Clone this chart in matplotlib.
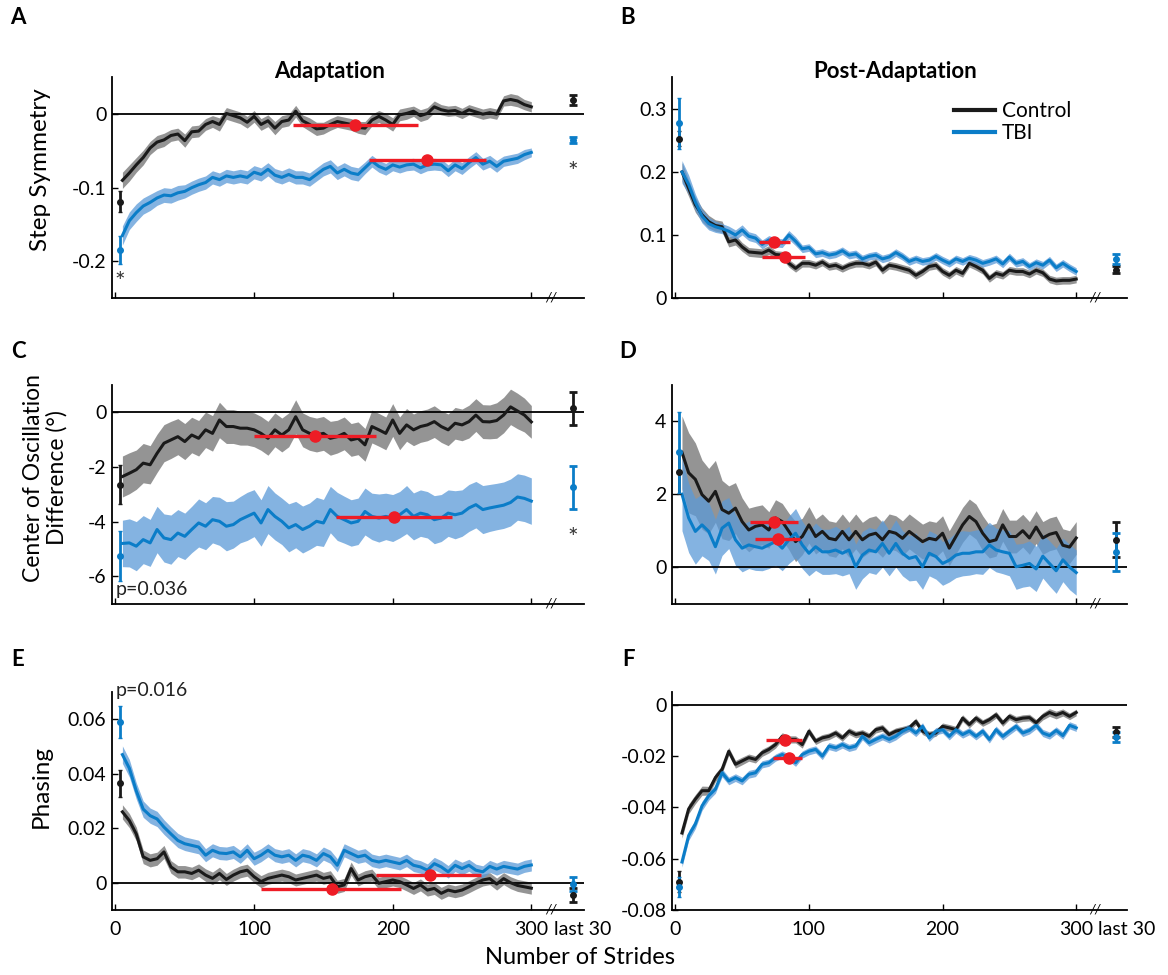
import numpy as np
import matplotlib.pyplot as plt
from matplotlib.transforms import ScaledTranslation

plt.rcParams['font.family'] = ['Lato', 'DejaVu Sans']

# stride bins (every 5 strides) used for all the curves
strides = np.arange(5, 301, 5)

# A: step symmetry, adaptation
a_ctrl = [-0.090, -0.080, -0.069, -0.059, -0.046, -0.038, -0.035, -0.029, -0.027, -0.036,
          -0.024, -0.023, -0.014, -0.010, -0.014, 0.001, -0.002, -0.005, -0.011, -0.003,
          -0.014, -0.009, -0.019, -0.010, -0.008, 0.004, -0.009, -0.014, -0.020, -0.019,
          -0.014, -0.010, -0.012, -0.014, -0.018, -0.019, -0.008, -0.003, -0.008, -0.014,
          -0.001, 0.001, 0.004, -0.002, 0.001, 0.010, 0.006, 0.004, 0.005, 0.001,
          0.006, 0.003, 0.000, 0.002, 0.000, 0.018, 0.020, 0.018, 0.013, 0.010]
a_ctrl_se = [0.011, 0.011, 0.010, 0.010, 0.009, 0.009, 0.009, 0.008, 0.008, 0.009,
             0.008, 0.008, 0.008, 0.008, 0.009, 0.008, 0.008, 0.008, 0.008, 0.008,
             0.008, 0.008, 0.009, 0.008, 0.008, 0.008, 0.008, 0.009, 0.009, 0.008,
             0.008, 0.008, 0.008, 0.008, 0.008, 0.009, 0.008, 0.008, 0.009, 0.009,
             0.008, 0.008, 0.007, 0.008, 0.008, 0.008, 0.007, 0.007, 0.007, 0.007,
             0.007, 0.007, 0.007, 0.007, 0.007, 0.007, 0.008, 0.008, 0.007, 0.007]
a_tbi = [-0.165, -0.145, -0.134, -0.125, -0.120, -0.114, -0.110, -0.111, -0.107, -0.105,
         -0.100, -0.096, -0.093, -0.086, -0.089, -0.084, -0.086, -0.084, -0.086, -0.079,
         -0.082, -0.075, -0.083, -0.086, -0.082, -0.086, -0.086, -0.089, -0.082, -0.075,
         -0.071, -0.080, -0.075, -0.080, -0.082, -0.073, -0.064, -0.071, -0.075, -0.069,
         -0.072, -0.069, -0.068, -0.073, -0.069, -0.068, -0.069, -0.077, -0.069, -0.074,
         -0.066, -0.059, -0.068, -0.064, -0.071, -0.064, -0.062, -0.060, -0.055, -0.052]
a_tbi_se = [0.013, 0.012, 0.012, 0.011, 0.011, 0.010, 0.010, 0.010, 0.010, 0.009,
            0.009, 0.009, 0.009, 0.009, 0.009, 0.009, 0.009, 0.009, 0.009, 0.009,
            0.009, 0.009, 0.009, 0.009, 0.009, 0.009, 0.009, 0.009, 0.009, 0.009,
            0.009, 0.009, 0.009, 0.009, 0.009, 0.008, 0.008, 0.008, 0.008, 0.008,
            0.008, 0.008, 0.008, 0.008, 0.008, 0.008, 0.008, 0.008, 0.008, 0.008,
            0.008, 0.008, 0.008, 0.008, 0.008, 0.007, 0.007, 0.007, 0.007, 0.006]

# B: step symmetry, post-adaptation
b_ctrl = [0.200, 0.174, 0.148, 0.132, 0.121, 0.115, 0.113, 0.089, 0.092, 0.081,
          0.073, 0.072, 0.071, 0.076, 0.069, 0.068, 0.055, 0.047, 0.055, 0.055,
          0.052, 0.057, 0.050, 0.052, 0.047, 0.052, 0.055, 0.055, 0.052, 0.057,
          0.044, 0.052, 0.050, 0.047, 0.044, 0.036, 0.042, 0.050, 0.052, 0.042,
          0.036, 0.044, 0.039, 0.055, 0.050, 0.044, 0.031, 0.039, 0.036, 0.044,
          0.042, 0.042, 0.038, 0.044, 0.040, 0.030, 0.027, 0.028, 0.028, 0.030]
b_ctrl_se = [0.015, 0.013, 0.012, 0.011, 0.010, 0.009, 0.009, 0.008, 0.008, 0.007,
             0.007, 0.007, 0.007, 0.007, 0.006, 0.006, 0.006, 0.006, 0.006, 0.006,
             0.006, 0.006, 0.006, 0.006, 0.006, 0.006, 0.006, 0.006, 0.006, 0.006,
             0.006, 0.006, 0.006, 0.006, 0.006, 0.006, 0.006, 0.006, 0.006, 0.006,
             0.006, 0.006, 0.006, 0.006, 0.006, 0.006, 0.006, 0.006, 0.006, 0.006,
             0.006, 0.006, 0.006, 0.006, 0.006, 0.006, 0.006, 0.006, 0.006, 0.006]
b_tbi = [0.200, 0.180, 0.152, 0.130, 0.118, 0.113, 0.110, 0.106, 0.100, 0.108,
         0.098, 0.095, 0.085, 0.092, 0.088, 0.087, 0.100, 0.090, 0.078, 0.080,
         0.070, 0.072, 0.068, 0.070, 0.075, 0.068, 0.070, 0.062, 0.066, 0.068,
         0.062, 0.065, 0.072, 0.066, 0.058, 0.062, 0.058, 0.060, 0.066, 0.060,
         0.055, 0.062, 0.058, 0.063, 0.060, 0.055, 0.058, 0.062, 0.054, 0.065,
         0.055, 0.058, 0.050, 0.056, 0.052, 0.060, 0.048, 0.055, 0.048, 0.042]
b_tbi_se = [0.018, 0.015, 0.013, 0.011, 0.010, 0.009, 0.008, 0.008, 0.008, 0.008,
            0.007, 0.007, 0.007, 0.007, 0.007, 0.007, 0.007, 0.007, 0.006, 0.006,
            0.006, 0.006, 0.006, 0.006, 0.006, 0.006, 0.006, 0.006, 0.006, 0.006,
            0.006, 0.006, 0.006, 0.006, 0.006, 0.006, 0.006, 0.006, 0.006, 0.006,
            0.006, 0.006, 0.006, 0.006, 0.006, 0.006, 0.006, 0.006, 0.006, 0.006,
            0.006, 0.006, 0.006, 0.006, 0.006, 0.006, 0.006, 0.006, 0.006, 0.006]

# C: center of oscillation difference, adaptation
c_ctrl = [-2.35, -2.23, -2.10, -1.86, -1.92, -1.50, -1.13, -1.01, -0.89, -1.07,
          -0.83, -0.95, -0.64, -0.77, -0.28, -0.52, -0.52, -0.58, -0.58, -0.64,
          -0.77, -0.95, -0.64, -0.83, -0.64, -0.16, -0.64, -0.77, -0.83, -0.77,
          -0.95, -0.89, -0.77, -1.01, -0.95, -1.19, -0.52, -0.64, -0.77, -0.28,
          -0.77, -0.46, -0.64, -0.52, -0.46, -0.34, -0.52, -0.64, -0.40, -0.46,
          -0.34, -0.10, -0.34, -0.35, -0.30, -0.10, 0.20, 0.05, -0.10, -0.35]
c_ctrl_se = [0.75, 0.75, 0.72, 0.72, 0.70, 0.70, 0.68, 0.68, 0.66, 0.66,
             0.65, 0.65, 0.65, 0.65, 0.65, 0.62, 0.62, 0.62, 0.62, 0.62,
             0.62, 0.62, 0.62, 0.62, 0.62, 0.62, 0.62, 0.62, 0.62, 0.62,
             0.62, 0.60, 0.60, 0.60, 0.60, 0.60, 0.60, 0.60, 0.60, 0.60,
             0.60, 0.60, 0.58, 0.58, 0.58, 0.58, 0.58, 0.58, 0.58, 0.58,
             0.60, 0.60, 0.62, 0.62, 0.65, 0.65, 0.65, 0.65, 0.62, 0.60]
c_tbi = [-4.80, -4.78, -4.90, -4.66, -4.78, -4.29, -4.60, -4.66, -4.42, -4.54,
         -4.29, -4.05, -4.17, -3.93, -3.99, -4.17, -4.11, -3.93, -3.81, -3.69,
         -4.05, -3.56, -3.81, -3.99, -4.23, -4.11, -4.29, -4.17, -3.99, -4.05,
         -3.56, -3.81, -3.93, -4.05, -3.99, -3.63, -3.81, -3.87, -3.81, -3.87,
         -3.75, -3.56, -3.81, -3.69, -3.75, -3.93, -3.87, -3.69, -3.75, -3.69,
         -3.50, -3.38, -3.56, -3.50, -3.45, -3.40, -3.30, -3.10, -3.15, -3.25]
c_tbi_se = [0.85, 0.88, 0.90, 0.88, 0.86, 0.85, 0.88, 0.90, 0.86, 0.85,
            0.85, 0.88, 0.86, 0.85, 0.88, 0.90, 0.86, 0.85, 0.88, 0.86,
            0.85, 0.88, 0.86, 0.85, 0.88, 0.85, 0.86, 0.85, 0.88, 0.86,
            0.85, 0.88, 0.86, 0.85, 0.85, 0.86, 0.85, 0.88, 0.85, 0.86,
            0.85, 0.88, 0.86, 0.85, 0.85, 0.88, 0.86, 0.85, 0.88, 0.85,
            0.86, 0.85, 0.88, 0.86, 0.85, 0.85, 0.86, 0.85, 0.85, 0.85]

# D: center of oscillation difference, post-adaptation
d_ctrl = [3.15, 2.59, 2.41, 1.99, 1.81, 2.08, 1.58, 1.48, 1.62, 1.25,
          1.02, 1.12, 1.16, 1.02, 1.35, 1.25, 0.98, 0.70, 0.84, 1.16,
          0.84, 0.98, 0.79, 0.75, 0.98, 0.75, 0.98, 0.75, 0.88, 0.93,
          0.75, 0.98, 0.93, 0.79, 0.98, 0.84, 0.70, 0.79, 0.75, 0.93,
          0.52, 0.84, 1.16, 1.39, 1.25, 0.93, 0.70, 0.75, 1.16, 0.84,
          0.84, 1.00, 0.80, 1.10, 0.80, 0.90, 0.95, 0.60, 0.55, 0.80]
d_ctrl_se = [1.00, 1.10, 1.00, 0.95, 0.90, 0.85, 0.80, 0.75, 0.70, 0.65,
             0.60, 0.55, 0.55, 0.50, 0.50, 0.50, 0.50, 0.55, 0.50, 0.50,
             0.48, 0.48, 0.48, 0.48, 0.48, 0.48, 0.48, 0.48, 0.48, 0.48,
             0.48, 0.48, 0.48, 0.48, 0.48, 0.48, 0.48, 0.48, 0.48, 0.48,
             0.48, 0.48, 0.48, 0.48, 0.48, 0.48, 0.45, 0.45, 0.45, 0.45,
             0.45, 0.45, 0.45, 0.45, 0.45, 0.45, 0.45, 0.45, 0.45, 0.45]
d_tbi = [2.00, 1.35, 0.98, 1.16, 0.98, 0.56, 1.07, 1.21, 0.75, 0.52,
         0.61, 0.56, 0.52, 0.61, 0.70, 0.52, 0.75, 0.93, 0.61, 0.38,
         0.56, 0.42, 0.42, 0.47, 0.38, 0.47, 0.01, 0.33, 0.47, 0.42,
         0.65, 0.38, 0.65, 0.38, 0.24, 0.29, 0.01, 0.38, 0.29, 0.10,
         0.19, 0.33, 0.38, 0.38, 0.42, 0.42, 0.61, 0.47, 0.42, 0.38,
         0.01, 0.05, 0.10, -0.05, 0.30, 0.10, -0.10, 0.20, 0.00, -0.15]
d_tbi_se = [1.00, 0.95, 0.90, 0.85, 0.80, 0.75, 0.75, 0.70, 0.70, 0.65,
            0.65, 0.65, 0.62, 0.65, 0.65, 0.62, 0.65, 0.68, 0.65, 0.62,
            0.65, 0.62, 0.62, 0.65, 0.62, 0.65, 0.62, 0.65, 0.62, 0.62,
            0.65, 0.62, 0.65, 0.62, 0.62, 0.65, 0.62, 0.62, 0.62, 0.60,
            0.60, 0.62, 0.62, 0.60, 0.60, 0.62, 0.62, 0.60, 0.60, 0.62,
            0.62, 0.60, 0.62, 0.62, 0.60, 0.62, 0.62, 0.60, 0.62, 0.62]

# E: phasing, adaptation
e_ctrl = [0.0260, 0.0228, 0.0179, 0.0095, 0.0082, 0.0088, 0.0113, 0.0058, 0.0040, 0.0040,
          0.0034, 0.0046, 0.0028, 0.0016, 0.0034, 0.0012, 0.0028, 0.0040, 0.0046, 0.0022,
          0.0004, 0.0016, 0.0022, 0.0028, 0.0022, 0.0010, 0.0016, 0.0022, 0.0028, 0.0016,
          0.0022, -0.0015, -0.0008, 0.0052, 0.0010, 0.0022, 0.0028, -0.0002, 0.0004, 0.0010,
          0.0004, -0.0008, -0.0021, -0.0008, -0.0027, -0.0021, -0.0039, -0.0027, -0.0033, -0.0027,
          -0.0015, -0.0002, 0.0010, 0.0015, -0.0005, 0.0015, 0.0000, -0.0010, -0.0015, -0.0020]
e_ctrl_se = [0.0026, 0.0026, 0.0025, 0.0025, 0.0024, 0.0024, 0.0024, 0.0023, 0.0023, 0.0023,
             0.0023, 0.0023, 0.0023, 0.0023, 0.0023, 0.0022, 0.0022, 0.0022, 0.0022, 0.0022,
             0.0022, 0.0022, 0.0022, 0.0022, 0.0022, 0.0022, 0.0022, 0.0022, 0.0022, 0.0022,
             0.0022, 0.0024, 0.0024, 0.0024, 0.0022, 0.0022, 0.0022, 0.0022, 0.0022, 0.0022,
             0.0022, 0.0022, 0.0022, 0.0022, 0.0022, 0.0022, 0.0022, 0.0022, 0.0022, 0.0022,
             0.0022, 0.0022, 0.0022, 0.0022, 0.0022, 0.0022, 0.0022, 0.0022, 0.0022, 0.0022]
e_tbi = [0.0470, 0.0420, 0.0337, 0.0270, 0.0246, 0.0234, 0.0204, 0.0179, 0.0155, 0.0143,
         0.0137, 0.0131, 0.0101, 0.0119, 0.0109, 0.0107, 0.0113, 0.0095, 0.0119, 0.0088,
         0.0101, 0.0119, 0.0101, 0.0095, 0.0101, 0.0082, 0.0101, 0.0095, 0.0082, 0.0107,
         0.0095, 0.0064, 0.0119, 0.0107, 0.0095, 0.0101, 0.0082, 0.0076, 0.0082, 0.0076,
         0.0070, 0.0082, 0.0064, 0.0058, 0.0046, 0.0070, 0.0058, 0.0040, 0.0064, 0.0052,
         0.0064, 0.0046, 0.0040, 0.0060, 0.0050, 0.0060, 0.0055, 0.0050, 0.0060, 0.0065]
e_tbi_se = [0.0032, 0.0032, 0.0030, 0.0030, 0.0028, 0.0028, 0.0027, 0.0026, 0.0026, 0.0025,
            0.0025, 0.0025, 0.0024, 0.0024, 0.0024, 0.0024, 0.0024, 0.0024, 0.0024, 0.0024,
            0.0024, 0.0024, 0.0024, 0.0024, 0.0024, 0.0024, 0.0024, 0.0024, 0.0024, 0.0024,
            0.0024, 0.0024, 0.0024, 0.0024, 0.0024, 0.0024, 0.0023, 0.0023, 0.0023, 0.0023,
            0.0023, 0.0023, 0.0023, 0.0023, 0.0023, 0.0023, 0.0023, 0.0023, 0.0023, 0.0023,
            0.0022, 0.0022, 0.0022, 0.0022, 0.0022, 0.0022, 0.0022, 0.0022, 0.0022, 0.0022]

# F: phasing, post-adaptation
f_ctrl = [-0.0500, -0.0406, -0.0368, -0.0335, -0.0335, -0.0284, -0.0252, -0.0181, -0.0232, -0.0219,
          -0.0206, -0.0213, -0.0187, -0.0174, -0.0155, -0.0123, -0.0135, -0.0135, -0.0155, -0.0103,
          -0.0142, -0.0129, -0.0123, -0.0110, -0.0129, -0.0103, -0.0116, -0.0110, -0.0123, -0.0097,
          -0.0090, -0.0116, -0.0103, -0.0097, -0.0090, -0.0065, -0.0103, -0.0116, -0.0110, -0.0084,
          -0.0090, -0.0097, -0.0052, -0.0077, -0.0052, -0.0071, -0.0058, -0.0039, -0.0071, -0.0045,
          -0.0058, -0.0052, -0.0050, -0.0070, -0.0045, -0.0030, -0.0040, -0.0030, -0.0045, -0.0030]
f_ctrl_se = [0.0020, 0.0019, 0.0018, 0.0018, 0.0017, 0.0016, 0.0016, 0.0015, 0.0015, 0.0015,
             0.0014, 0.0014, 0.0014, 0.0014, 0.0014, 0.0014, 0.0014, 0.0014, 0.0014, 0.0014,
             0.0013, 0.0013, 0.0013, 0.0013, 0.0013, 0.0013, 0.0013, 0.0013, 0.0013, 0.0013,
             0.0013, 0.0013, 0.0013, 0.0013, 0.0013, 0.0013, 0.0013, 0.0013, 0.0013, 0.0013,
             0.0013, 0.0013, 0.0013, 0.0013, 0.0013, 0.0013, 0.0013, 0.0013, 0.0013, 0.0013,
             0.0013, 0.0013, 0.0013, 0.0013, 0.0014, 0.0015, 0.0015, 0.0014, 0.0013, 0.0013]
f_tbi = [-0.0613, -0.0510, -0.0465, -0.0394, -0.0355, -0.0329, -0.0265, -0.0297, -0.0284, -0.0297,
         -0.0271, -0.0265, -0.0232, -0.0226, -0.0206, -0.0194, -0.0206, -0.0226, -0.0194, -0.0181,
         -0.0174, -0.0200, -0.0161, -0.0168, -0.0155, -0.0168, -0.0161, -0.0123, -0.0148, -0.0135,
         -0.0123, -0.0135, -0.0123, -0.0103, -0.0090, -0.0110, -0.0084, -0.0129, -0.0103, -0.0097,
         -0.0123, -0.0097, -0.0116, -0.0103, -0.0123, -0.0103, -0.0135, -0.0097, -0.0123, -0.0103,
         -0.0084, -0.0110, -0.0100, -0.0080, -0.0110, -0.0120, -0.0100, -0.0120, -0.0080, -0.0090]
f_tbi_se = [0.0020, 0.0019, 0.0018, 0.0018, 0.0017, 0.0016, 0.0016, 0.0015, 0.0015, 0.0015,
            0.0015, 0.0015, 0.0014, 0.0014, 0.0014, 0.0014, 0.0014, 0.0014, 0.0014, 0.0014,
            0.0014, 0.0014, 0.0014, 0.0014, 0.0014, 0.0014, 0.0014, 0.0014, 0.0014, 0.0014,
            0.0014, 0.0014, 0.0014, 0.0014, 0.0014, 0.0014, 0.0014, 0.0014, 0.0014, 0.0014,
            0.0014, 0.0014, 0.0014, 0.0014, 0.0014, 0.0014, 0.0014, 0.0014, 0.0014, 0.0014,
            0.0014, 0.0014, 0.0014, 0.0014, 0.0014, 0.0014, 0.0014, 0.0014, 0.0014, 0.0014]

# first strides and last 30 strides: [mean, se] for control and TBI
a_first = [[-0.119, 0.014], [-0.185, 0.019]]
a_last = [[0.019, 0.007], [-0.035, 0.004]]
b_first = [[0.253, 0.012], [0.277, 0.040]]
b_last = [[0.045, 0.006], [0.062, 0.008]]
c_first = [[-2.65, 0.72], [-5.25, 0.92]]
c_last = [[0.15, 0.60], [-2.75, 0.80]]
d_first = [[2.60, 0.60], [3.15, 1.12]]
d_last = [[0.75, 0.48], [0.42, 0.52]]
e_first = [[0.0365, 0.0050], [0.0590, 0.0060]]
e_last = [[-0.0045, 0.0025], [-0.0005, 0.0025]]
f_first = [[-0.069, 0.004], [-0.071, 0.004]]
f_last = [[-0.0105, 0.002], [-0.0125, 0.002]]

# time constant markers (red): [start, end, center, level]
a_red = [[128, 218, 173, -0.0144], [183, 267, 225, -0.063]]
b_red = [[65, 97, 82, 0.0645], [63, 86, 74, 0.0883]]
c_red = [[100, 188, 144, -0.86], [159, 243, 201, -3.84]]
d_red = [[56, 92, 74, 1.25], [60, 93, 77, 0.77]]
e_red = [[105, 206, 156, -0.0023], [188, 264, 227, 0.0027]]
f_red = [[68, 95, 82, -0.0139], [73, 95, 85, -0.0206]]

BLACK = '#1a1a1a'
BLUE = '#0b7dc8'
GRAY_BAND = '#7a7a7a'
BLUE_BAND = '#5b9ad8'
RED = '#ee1c25'
FIRST_X = 3
LAST_X = 330

fig = plt.figure(figsize=(11.68, 9.75), dpi=100)

cols = [[0.0959, 0.4041], [0.5753, 0.3896]]
rows = [[0.6944, 0.2262], [0.3810, 0.2241], [0.0667, 0.2236]]


def panel(col, row, ctrl, ctrl_se, tbi, tbi_se, first, last, reds, ylim, yticks, ylabels,
          bottom=False, zero=True):
    ax = fig.add_axes([cols[col][0], rows[row][0], cols[col][1], rows[row][1]])
    ctrl = np.array(ctrl)
    tbi = np.array(tbi)
    ax.fill_between(strides, ctrl - np.array(ctrl_se), ctrl + np.array(ctrl_se),
                    color=GRAY_BAND, alpha=0.8, lw=0)
    ax.fill_between(strides, tbi - np.array(tbi_se), tbi + np.array(tbi_se),
                    color=BLUE_BAND, alpha=0.75, lw=0)
    if zero:
        ax.axhline(0, color='black', lw=1.3, zorder=1.5)
    ax.plot(strides, ctrl, color=BLACK, lw=2.2, label='Control')
    ax.plot(strides, tbi, color=BLUE, lw=2.2, label='TBI')
    for r in reds:
        ax.plot([r[0], r[1]], [r[3], r[3]], color=RED, lw=2.4, solid_capstyle='butt', zorder=5)
        ax.plot(r[2], r[3], 'o', color=RED, ms=8, zorder=6)
    for vals, c in zip(first, [BLACK, BLUE]):
        ax.errorbar(FIRST_X, vals[0], yerr=vals[1], fmt='o', color=c, ms=4, lw=2,
                    capsize=1.5, zorder=7, clip_on=False)
    for vals, c in zip(last, [BLACK, BLUE]):
        ax.errorbar(LAST_X, vals[0], yerr=vals[1], fmt='o', color=c, ms=4, lw=2,
                    capsize=3, capthick=2, zorder=7, clip_on=False)
    ax.set_xlim(-2.5, 338)
    ax.set_ylim(ylim)
    ax.set_yticks(yticks)
    ax.set_yticklabels(ylabels)
    ax.set_xticks([0, 100, 200, 300])
    if bottom:
        ax.set_xticklabels(['0', '100', '200', '300'])
        # "last 30" sits in the tick label row, just right of 300
        shift = ScaledTranslation(0, -8 / 72, fig.dpi_scale_trans)
        ax.text(316, 0, 'last 30', transform=ax.get_xaxis_transform() + shift,
                ha='left', va='top', fontsize=14, clip_on=False)
    else:
        ax.set_xticklabels([])
    ax.tick_params(direction='in', length=4, width=1, labelsize=14, pad=4)
    ax.tick_params(axis='x', pad=8)
    for sp in ['top', 'right']:
        ax.spines[sp].set_visible(False)
    for sp in ['left', 'bottom']:
        ax.spines[sp].set_linewidth(1.3)
    ax.text(314, ylim[0], '//', ha='center', va='center', fontsize=10,
            style='italic', clip_on=False)
    return ax


ax_a = panel(0, 0, a_ctrl, a_ctrl_se, a_tbi, a_tbi_se, a_first, a_last, a_red,
             (-0.25, 0.05), [-0.2, -0.1, 0], ['-0.2', '-0.1', '0'])
ax_b = panel(1, 0, b_ctrl, b_ctrl_se, b_tbi, b_tbi_se, b_first, b_last, b_red,
             (0, 0.35), [0, 0.1, 0.2, 0.3], ['0', '0.1', '0.2', '0.3'], zero=False)
ax_c = panel(0, 1, c_ctrl, c_ctrl_se, c_tbi, c_tbi_se, c_first, c_last, c_red,
             (-7, 1), [-6, -4, -2, 0], ['-6', '-4', '-2', '0'])
ax_d = panel(1, 1, d_ctrl, d_ctrl_se, d_tbi, d_tbi_se, d_first, d_last, d_red,
             (-1, 5), [0, 2, 4], ['0', '2', '4'])
ax_e = panel(0, 2, e_ctrl, e_ctrl_se, e_tbi, e_tbi_se, e_first, e_last, e_red,
             (-0.01, 0.07), [0, 0.02, 0.04, 0.06], ['0', '0.02', '0.04', '0.06'], bottom=True)
ax_f = panel(1, 2, f_ctrl, f_ctrl_se, f_tbi, f_tbi_se, f_first, f_last, f_red,
             (-0.08, 0.005), [-0.08, -0.06, -0.04, -0.02, 0],
             ['-0.08', '-0.06', '-0.04', '-0.02', '0'], bottom=True)

# significance marks
ax_a.text(FIRST_X, -0.229, '*', ha='center', va='center', fontsize=18, color='#333333')
ax_a.text(LAST_X, -0.080, '*', ha='center', va='center', fontsize=18, color='#333333',
          clip_on=False)
ax_c.text(LAST_X, -4.62, '*', ha='center', va='center', fontsize=18, color='#333333',
          clip_on=False)
ax_c.text(0, -6.5, 'p=0.036', ha='left', va='center', fontsize=14, color='#222222')
ax_e.text(0, 0.0707, 'p=0.016', ha='left', va='center', fontsize=14, color='#222222',
          clip_on=False)

ax_b.legend(loc='upper right', bbox_to_anchor=(0.895, 0.93), frameon=False, fontsize=15,
            handlelength=2.0, handletextpad=0.3, labelspacing=0.1, borderaxespad=0)
for line in ax_b.get_legend().get_lines():
    line.set_linewidth(3)

# titles, labels, panel letters
fig.text(330 / 1168, 1 - 72 / 975, 'Adaptation', ha='center', va='center',
         fontsize=16, fontweight='bold')
fig.text(895 / 1168, 1 - 72 / 975, 'Post-Adaptation', ha='center', va='center',
         fontsize=16, fontweight='bold')
fig.text(41 / 1168, 1 - 170 / 975, 'Step Symmetry', rotation=90, ha='center', va='center',
         fontsize=17.5)
fig.text(45 / 1168, 1 - 478 / 975, 'Center of Oscillation\nDifference (°)', rotation=90,
         ha='center', va='center', fontsize=16.5, linespacing=1.1)
fig.text(41 / 1168, 1 - 787 / 975, 'Phasing', rotation=90, ha='center', va='center',
         fontsize=17.5)
fig.text(580 / 1168, 1 - 957 / 975, 'Number of Strides', ha='center', va='center', fontsize=17)
for letter, x, y in [('A', 18, 18), ('B', 628, 18), ('C', 18, 352),
                     ('D', 628, 352), ('E', 18, 660), ('F', 628, 660)]:
    fig.text(x / 1168, 1 - y / 975, letter, ha='center', va='center', fontsize=16,
             fontweight='bold')

fig.savefig('out.png', dpi=100)
